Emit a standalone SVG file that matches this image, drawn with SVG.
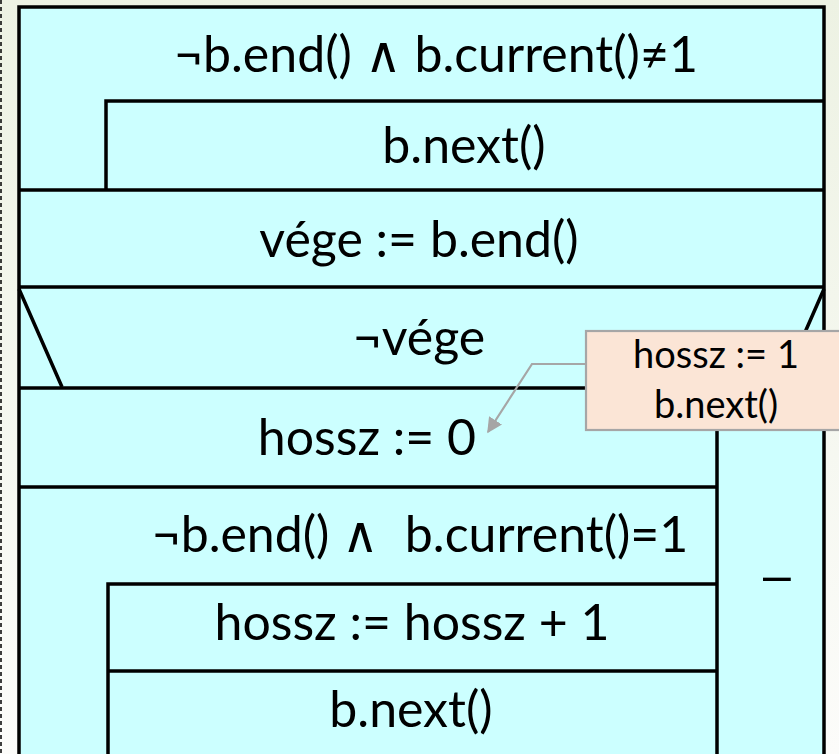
<svg xmlns="http://www.w3.org/2000/svg" width="839" height="754" viewBox="0 0 839 754">
  <defs>
    <linearGradient id="bg" x1="0" y1="0" x2="0" y2="1">
      <stop offset="0" stop-color="#edf2e3"/>
      <stop offset="1" stop-color="#fcfcfa"/>
    </linearGradient>
    <marker id="arr" viewBox="0 0 10 10" refX="9" refY="5" markerWidth="7" markerHeight="7" markerUnits="strokeWidth" orient="auto">
      <path d="M0,0 L10,5 L0,10 z" fill="#a6a6a6"/>
    </marker>
    <style>
      .ln { stroke: #000; stroke-width: 3.5; fill: none; }
      .box { stroke: #000; stroke-width: 3.5; fill: #ccffff; }
      .t { font-family: Lato, "Liberation Sans", sans-serif; font-size: 50px; fill: #000; text-anchor: middle; }
      .ct { font-family: Lato, "Liberation Sans", sans-serif; font-size: 38px; fill: #000; text-anchor: middle; }
      .ptr { stroke: #a6a6a6; stroke-width: 2.2; fill: none; }
    </style>
  </defs>
  <rect x="0" y="0" width="839" height="754" fill="url(#bg)"/>
  <line x1="1" y1="0" x2="1" y2="754" stroke="#000" stroke-width="1.5" stroke-dasharray="4 3"/>

  <g id="structogram">
    <rect class="box" x="19" y="7" width="805" height="780"/>
    <path class="ln" d="M106,190 V101 H824"/>
    <path class="ln" d="M19,190 H824"/>
    <path class="ln" d="M19,287 H824"/>
    <path class="ln" d="M19,289 L62,387 M824,289 L781,387"/>
    <path class="ln" d="M19,388 H824"/>
    <path class="ln" d="M717,388 V780"/>
    <path class="ln" d="M19,487 H717"/>
    <path class="ln" d="M108,780 V584 H717"/>
    <path class="ln" d="M108,671 H717"/>
  </g>

  <g id="n1"><text class="t" x="436" y="72">¬b.end() ∧ b.current()≠1</text></g>
  <g id="n2"><text class="t" x="464" y="163">b.next()</text></g>
  <g id="n3"><text class="t" x="419" y="257">vége := b.end()</text></g>
  <g id="n4"><text class="t" x="419" y="355">¬vége</text></g>
  <g id="n5"><text class="t" x="367" y="455">hossz := 0</text></g>
  <g id="n6"><text class="t" x="420" y="552" xml:space="preserve">¬b.end() ∧ &#160;b.current()=1</text></g>
  <g id="n7"><text class="t" x="412" y="640">hossz := hossz + 1</text></g>
  <g id="n8"><text class="t" x="411" y="727">b.next()</text></g>
  <g id="n9"><text x="777" y="592" text-anchor="middle" font-family="'Liberation Sans', sans-serif" font-size="50">–</text></g>

  <g id="callout">
    <rect x="586" y="331" width="262" height="99" fill="#fbe5d6" stroke="#a6a6a6" stroke-width="2.2"/>
    <text class="ct" x="716" y="368">hossz := 1</text>
    <text class="ct" x="716" y="418">b.next()</text>
  </g>

  <g id="connectors">
    <polyline class="ptr" points="586,364 532,364 488,432" marker-end="url(#arr)"/>
  </g>
</svg>
